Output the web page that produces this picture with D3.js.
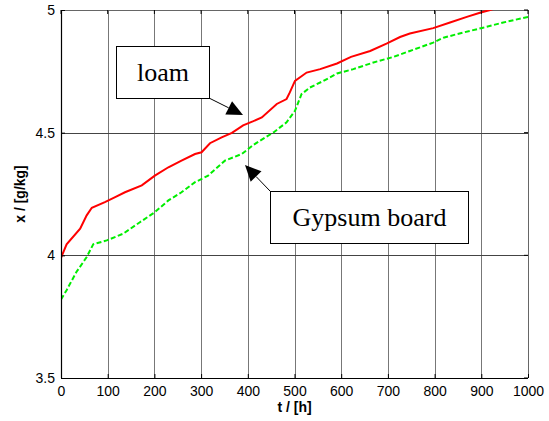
<!DOCTYPE html>
<html>
<head>
<meta charset="utf-8">
<script src="https://cdn.jsdelivr.net/npm/d3@7"></script>
<style>
  html, body { margin: 0; padding: 0; background: #fff; }
  svg { display: block; }
</style>
</head>
<body>
<svg id="chart" width="549" height="421"></svg>
<script>
// Moisture content over time for two wall materials
const tLoam = [0, 12, 41, 55, 66, 94, 116, 137, 173, 201, 230, 258, 287, 301, 319, 344, 366, 390, 412, 430, 462, 483, 490, 501, 526, 555, 591, 621, 662, 697, 726, 747, 797, 833, 869, 897, 919, 1000];
const xLoam = [3.99, 4.045, 4.109, 4.163, 4.194, 4.217, 4.237, 4.257, 4.285, 4.325, 4.359, 4.386, 4.413, 4.42, 4.457, 4.481, 4.499, 4.53, 4.547, 4.562, 4.617, 4.637, 4.664, 4.711, 4.745, 4.759, 4.782, 4.809, 4.833, 4.863, 4.89, 4.904, 4.926, 4.949, 4.972, 4.989, 5.0, 5.05];

const tGypsum = [0, 12, 33, 55, 69, 98, 133, 169, 201, 230, 258, 287, 315, 351, 387, 412, 426, 455, 483, 501, 515, 533, 562, 591, 626, 669, 712, 747, 797, 819, 861, 904, 947, 1000];
const xGypsum = [3.82, 3.858, 3.932, 3.993, 4.045, 4.061, 4.088, 4.135, 4.176, 4.224, 4.257, 4.298, 4.325, 4.386, 4.413, 4.45, 4.467, 4.501, 4.542, 4.589, 4.657, 4.684, 4.711, 4.741, 4.759, 4.786, 4.809, 4.833, 4.867, 4.887, 4.908, 4.928, 4.949, 4.972];

const xTicks = [0, 100, 200, 300, 400, 500, 600, 700, 800, 900, 1000];
const yTicks = [3.5, 4, 4.5, 5];
const yTickLabels = ["3.5", "4", "4.5", "5"];

const xLabel = "t / [h]";
const yLabel = "x / [g/kg]";

// Text callouts
const noteTexts = ["loam", "Gypsum board"];

const margin = { left: 61, right: 21, top: 10, bottom: 43 };
const W = 549, H = 421;
const pw = W - margin.left - margin.right;
const ph = H - margin.top - margin.bottom;

const svg = d3.select("#chart");
const x = d3.scaleLinear().domain([0, 1000]).range([margin.left, margin.left + pw]);
const y = d3.scaleLinear().domain([3.5, 5]).range([margin.top + ph, margin.top]);

const x0 = x(0), x1 = x(1000), y0 = y(3.5), y1 = y(5);

// Grid
const grid = svg.append("g");
grid.selectAll(".vg").data(xTicks.slice(1, -1)).join("line")
  .attr("x1", d => Math.round(x(d)) + 0.5).attr("x2", d => Math.round(x(d)) + 0.5)
  .attr("y1", y1).attr("y2", y0)
  .attr("stroke", "#777").attr("stroke-width", 1);
grid.selectAll(".hg").data(yTicks.slice(1, -1)).join("line")
  .attr("x1", x0).attr("x2", x1)
  .attr("y1", d => Math.round(y(d)) + 0.5).attr("y2", d => Math.round(y(d)) + 0.5)
  .attr("stroke", "#444").attr("stroke-width", 1);

// Box (top and right edges lighter)
svg.append("line").attr("x1", x0).attr("x2", x1).attr("y1", y1 + 0.5).attr("y2", y1 + 0.5).attr("stroke", "#666");
svg.append("line").attr("x1", x1 + 0.5).attr("x2", x1 + 0.5).attr("y1", y1).attr("y2", y0).attr("stroke", "#666");

// Curves, clipped to the axes box
svg.append("clipPath").attr("id", "plotclip").append("rect")
  .attr("x", x0).attr("y", y1).attr("width", x1 - x0).attr("height", y0 - y1);

const line = d3.line().x(d => x(d[0])).y(d => y(d[1]));
const loam = tLoam.map((t, i) => [t, xLoam[i]]);
const gyps = tGypsum.map((t, i) => [t, xGypsum[i]]);

const curves = svg.append("g").attr("clip-path", "url(#plotclip)");
curves.append("path").datum(gyps).attr("d", line)
  .attr("fill", "none").attr("stroke", "#00ee00").attr("stroke-width", 2)
  .attr("stroke-dasharray", "5,2.5");
curves.append("path").datum(loam).attr("d", line)
  .attr("fill", "none").attr("stroke", "#ff0000").attr("stroke-width", 2);

// Axes
const xAxis = d3.axisBottom(x).tickValues(xTicks).tickSize(-4).tickPadding(8).tickFormat(d3.format("d"));
const yAxis = d3.axisLeft(y).tickValues(yTicks).tickSize(-4).tickPadding(6).tickFormat((d, i) => yTickLabels[i]);

const gx = svg.append("g").attr("transform", `translate(0,${y0})`).call(xAxis);
const gy = svg.append("g").attr("transform", `translate(${x0},0)`).call(yAxis);
[gx, gy].forEach(g => {
  g.select(".domain").attr("stroke", "#000").attr("stroke-width", 1.2);
  g.selectAll(".tick line").attr("stroke", "#000");
  g.selectAll(".tick text").attr("font-family", "Liberation Sans, Arial, sans-serif")
    .attr("font-size", 14).attr("fill", "#000");
});
gx.select(".domain").attr("d", `M${x0},0.5H${x1}`);
gy.select(".domain").attr("d", `M0.5,${y0}V${y1}`);

// Mirror ticks on top and right
svg.append("g").selectAll("line").data(xTicks).join("line")
  .attr("x1", d => x(d)).attr("x2", d => x(d)).attr("y1", y1).attr("y2", y1 + 4).attr("stroke", "#000");
svg.append("g").selectAll("line").data(yTicks).join("line")
  .attr("x1", x1).attr("x2", x1 - 4).attr("y1", d => y(d)).attr("y2", d => y(d)).attr("stroke", "#000");

// Axis titles
svg.append("text").attr("x", (x0 + x1) / 2).attr("y", 412).attr("text-anchor", "middle")
  .attr("font-family", "Liberation Sans, Arial, sans-serif").attr("font-size", 14).attr("font-weight", "bold")
  .text(xLabel);
svg.append("text").attr("transform", `translate(25,${(y0 + y1) / 2}) rotate(-90)`).attr("text-anchor", "middle")
  .attr("font-family", "Liberation Sans, Arial, sans-serif").attr("font-size", 14).attr("font-weight", "bold")
  .text(yLabel);

// Callout boxes with filled arrowheads
const boxes = [
  { x: 116, y: 46, w: 93, h: 52, from: [209, 98], tip: [243, 115] },
  { x: 270, y: 191, w: 198, h: 52, from: [270, 191], tip: [245, 165] }
];

const headLen = 16, headHalf = 7.5;
noteTexts.forEach((txt, i) => {
  const b = boxes[i];
  const dx = b.tip[0] - b.from[0], dy = b.tip[1] - b.from[1];
  const len = Math.hypot(dx, dy);
  const ux = dx / len, uy = dy / len;
  const bx = b.tip[0] - ux * headLen, by = b.tip[1] - uy * headLen;
  svg.append("line").attr("x1", b.from[0]).attr("y1", b.from[1])
    .attr("x2", bx).attr("y2", by)
    .attr("stroke", "#000").attr("stroke-width", 1);
  svg.append("path")
    .attr("d", `M${b.tip[0]},${b.tip[1]}L${bx - uy * headHalf},${by + ux * headHalf}L${bx + uy * headHalf},${by - ux * headHalf}Z`)
    .attr("fill", "#000");
  svg.append("rect").attr("x", b.x + 0.5).attr("y", b.y + 0.5).attr("width", b.w).attr("height", b.h)
    .attr("fill", "#fff").attr("stroke", "#000").attr("stroke-width", 1);
  svg.append("text").attr("x", b.x + b.w / 2 + 0.5).attr("y", b.y + b.h / 2 + 9)
    .attr("text-anchor", "middle").attr("font-family", "Liberation Serif, Times New Roman, serif")
    .attr("font-size", 26).attr("fill", "#000").text(txt);
});
</script>
</body>
</html>
